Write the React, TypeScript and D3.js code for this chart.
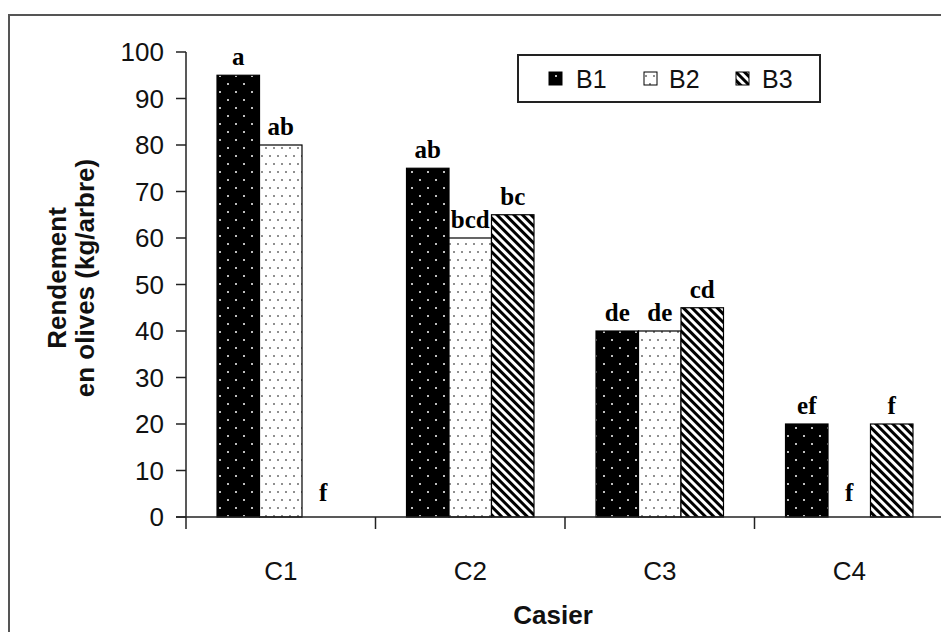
import React from "react";
import * as d3 from "d3";

const categories = ["C1", "C2", "C3", "C4"];
const seriesNames = ["B1", "B2", "B3"];
const valuesB1 = [95, 75, 40, 20];
const valuesB2 = [80, 60, 40, 0];
const valuesB3 = [0, 65, 45, 20];
const lettersB1 = ["a", "ab", "de", "ef"];
const lettersB2 = ["ab", "bcd", "de", "f"];
const lettersB3 = ["f", "bc", "cd", "f"];
const yTicks = [0, 10, 20, 30, 40, 50, 60, 70, 80, 90, 100];

const W = 941;
const H = 632;
const left = 186;
const step = 189.5;
const y0 = 517;
const yTop = 52;

export default function App() {
  const x0 = d3
    .scaleBand<string>()
    .domain(categories)
    .range([left, left + step * categories.length])
    .padding(0);
  const x1 = d3
    .scaleBand<string>()
    .domain(seriesNames)
    .range([0, x0.bandwidth()])
    .paddingInner(0)
    .paddingOuter(0.73);
  const y = d3.scaleLinear().domain([0, 100]).range([y0, yTop]);

  const series = [
    { name: "B1", values: valuesB1, letters: lettersB1, fill: "url(#pB1)" },
    { name: "B2", values: valuesB2, letters: lettersB2, fill: "url(#pB2)" },
    { name: "B3", values: valuesB3, letters: lettersB3, fill: "url(#pB3)" },
  ];

  const axisColor = "#222";
  const sans = "'Liberation Sans', Arial, sans-serif";
  const serif = "'Liberation Serif', 'Times New Roman', serif";

  const boundaries = d3.range(categories.length + 1).map((i) => left + step * i);

  const legendItems = [
    { name: "B1", fill: "url(#pB1)", sx: 549, tx: 576 },
    { name: "B2", fill: "url(#pB2)", sx: 644, tx: 669 },
    { name: "B3", fill: "url(#pB3)", sx: 736, tx: 762 },
  ];

  return (
    <svg
      width={W}
      height={H}
      style={{ position: "absolute", left: 0, top: 0, background: "#fff" }}
    >
      <defs>
        <pattern id="pB1" patternUnits="userSpaceOnUse" width={16} height={16}>
          <rect width={16} height={16} fill="#000" />
          <circle cx={4} cy={4} r={1} fill="#fff" />
          <circle cx={12} cy={12} r={1} fill="#fff" />
        </pattern>
        <pattern id="pB2" patternUnits="userSpaceOnUse" width={8} height={16}>
          <rect width={8} height={16} fill="#fff" />
          <circle cx={2} cy={4} r={0.8} fill="#000" />
          <circle cx={6} cy={12} r={0.8} fill="#000" />
        </pattern>
        <pattern
          id="pB3"
          patternUnits="userSpaceOnUse"
          width={6}
          height={6}
          patternTransform="rotate(-45)"
        >
          <rect width={6} height={6} fill="#fff" />
          <rect width={3} height={6} fill="#000" />
        </pattern>
      </defs>

      {/* outer frame */}
      <path d={`M9,${H + 10} V15 H${W + 10}`} fill="none" stroke="#555" strokeWidth={2} />

      {/* bars */}
      {series.map((s) =>
        categories.map((c, i) => {
          const v = s.values[i];
          const bx = (x0(c) as number) + (x1(s.name) as number);
          const bw = x1.bandwidth();
          return (
            <g key={s.name + c}>
              {v > 0 && (
                <rect
                  x={bx}
                  y={y(v)}
                  width={bw}
                  height={y(0) - y(v)}
                  fill={s.fill}
                  stroke="#000"
                  strokeWidth={1.2}
                />
              )}
              <text
                x={bx + bw / 2}
                y={y(v) - (v > 0 ? 10 : 16)}
                textAnchor="middle"
                fontFamily={serif}
                fontWeight="bold"
                fontSize={25}
                fill="#000"
              >
                {s.letters[i]}
              </text>
            </g>
          );
        })
      )}

      {/* y axis */}
      <line x1={left} y1={yTop} x2={left} y2={y0} stroke={axisColor} strokeWidth={1.5} />
      {yTicks.map((t) => (
        <g key={t}>
          <line x1={left - 10} y1={y(t)} x2={left} y2={y(t)} stroke={axisColor} strokeWidth={1.5} />
          <text
            x={left - 22}
            y={y(t)}
            dy="0.36em"
            textAnchor="end"
            fontFamily={sans}
            fontSize={26}
            fill="#111"
          >
            {t}
          </text>
        </g>
      ))}

      {/* x axis */}
      <line x1={left - 10} y1={y0} x2={W + 10} y2={y0} stroke={axisColor} strokeWidth={1.5} />
      {boundaries.map((bx, i) => (
        <line key={i} x1={bx} y1={y0} x2={bx} y2={y0 + 12} stroke={axisColor} strokeWidth={1.5} />
      ))}
      {categories.map((c) => (
        <text
          key={c}
          x={(x0(c) as number) + x0.bandwidth() / 2}
          y={580}
          textAnchor="middle"
          fontFamily={sans}
          fontSize={26}
          fill="#111"
        >
          {c}
        </text>
      ))}

      {/* axis titles */}
      <text
        x={553}
        y={624}
        textAnchor="middle"
        fontFamily={sans}
        fontWeight="bold"
        fontSize={26}
        fill="#111"
      >
        Casier
      </text>
      <g transform="translate(0,278) rotate(-90)">
        <text
          x={0}
          y={66}
          textAnchor="middle"
          fontFamily={sans}
          fontWeight="bold"
          fontSize={26}
          fill="#111"
        >
          Rendement
        </text>
        <text
          x={0}
          y={94}
          textAnchor="middle"
          fontFamily={sans}
          fontWeight="bold"
          fontSize={26}
          fill="#111"
        >
          en olives (kg/arbre)
        </text>
      </g>

      {/* legend */}
      <rect x={518} y={55} width={302} height={47} fill="#fff" stroke="#222" strokeWidth={2} />
      {legendItems.map((l) => (
        <g key={l.name}>
          <rect x={l.sx} y={72} width={13} height={13} fill={l.fill} stroke="#000" strokeWidth={1} />
          <text x={l.tx} y={88} fontFamily={sans} fontSize={25} fill="#111">
            {l.name}
          </text>
        </g>
      ))}
    </svg>
  );
}
